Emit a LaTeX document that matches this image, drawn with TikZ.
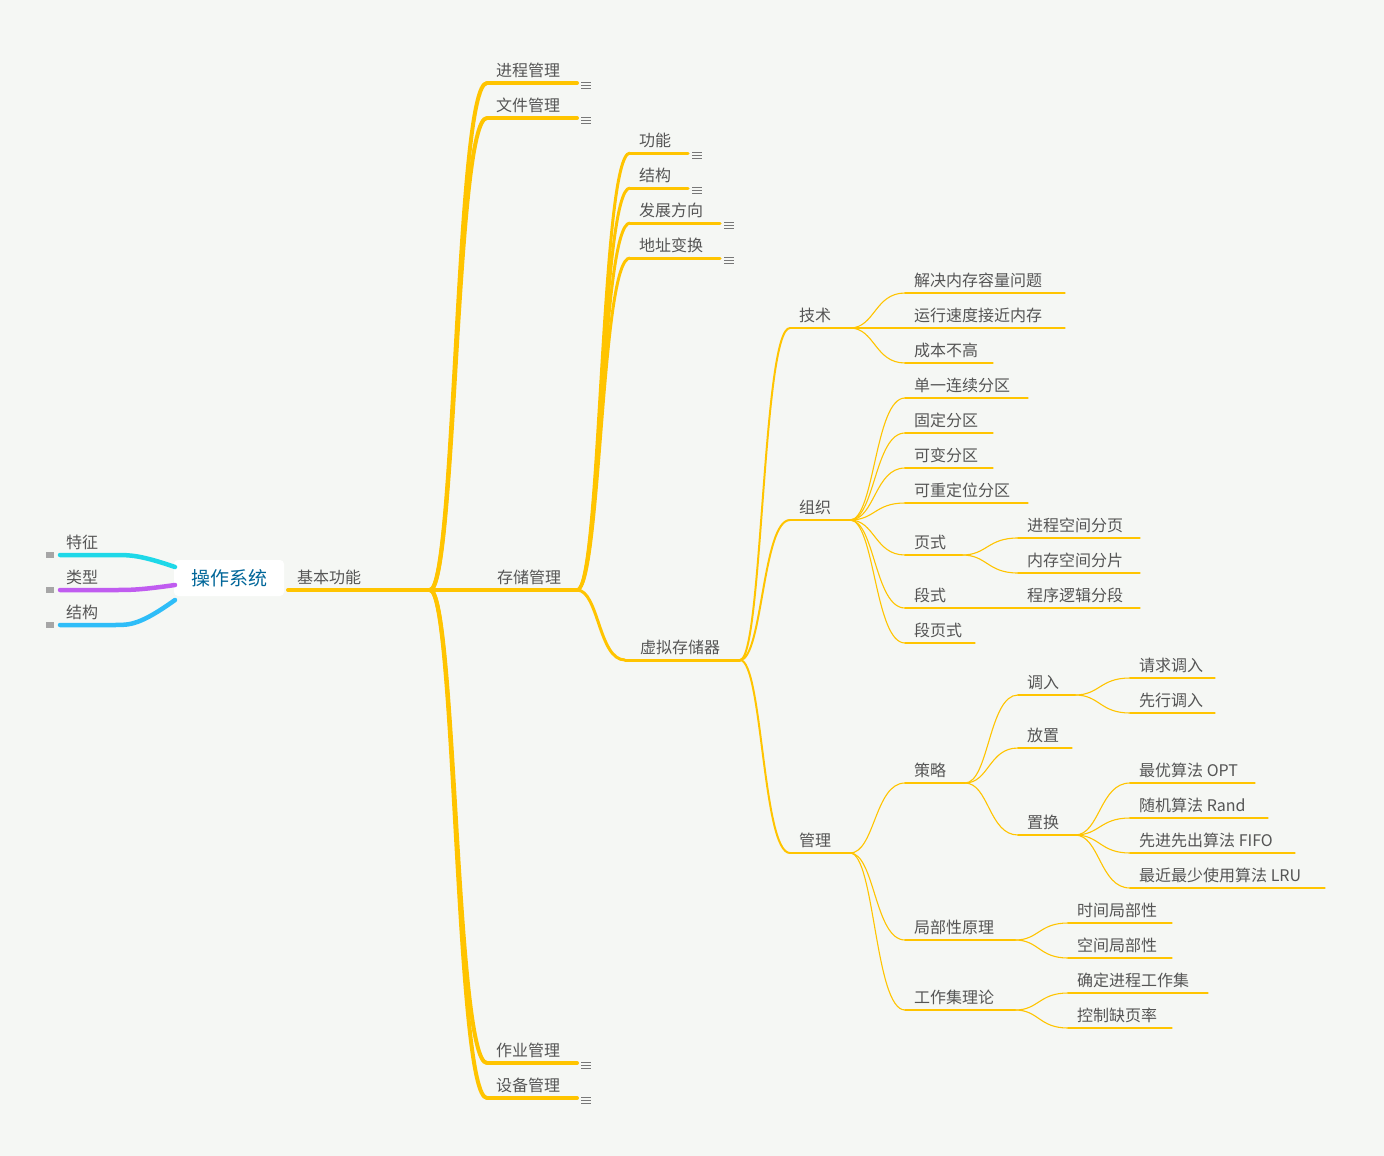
\documentclass[tikz,border=0pt]{standalone}
\usepackage{fontspec}
\setmainfont{Noto Sans CJK SC}
\usetikzlibrary{calc}
\definecolor{bg}{HTML}{F5F7F4}
\definecolor{org}{HTML}{FFC400}
\definecolor{txt}{HTML}{555555}
\tikzset{lbl/.style={anchor=south west,inner sep=0pt,text=txt,font=\fontsize{16}{18}\selectfont}}
\newcommand\tp[6]{% name xs y xe text width
  \coordinate (#1-s) at (#2,#3); \coordinate (#1-e) at (#4,#3);
  \draw[org,line width=#6,line cap=round] (#1-s) -- (#1-e);
  \node[lbl] (#1) at (#2+9,#3-5) {#5};}
\newcommand\cn[3]{\draw[org,line width=#3] let \p1=(#1-e), \p2=(#2-s) in (\p1) .. controls ({\x1+0.45*(\x2-\x1)},\y1) and ({\x1+0.45*(\x2-\x1)},\y2) .. (\p2);}
\newcommand\mk[1]{\foreach \d in {-3,0,3}{\draw[txt!80,line width=0.8pt] ($(#1-e)+(4,\d+2)$) -- ++(10,0);}}
\begin{document}
\begin{tikzpicture}[x=1pt,y=-1pt]
\fill[bg] (0,0) rectangle (1384,1156);
\useasboundingbox (0,0) rectangle (1384,1156);
% left branches
\node[fill=white,rounded corners=4pt,minimum width=110pt,minimum height=36pt,text=teal!80!blue,font=\fontsize{19}{22}\selectfont] (root) at (229,578) {操作系统};
\foreach \n/\t/\y/\c/\yy in {a/特征/555/1ED8E8/567,b/类型/590/C05CF0/585,c/结构/625/2EBDF8/600}{
  \definecolor{cc}{HTML}{\c}
  \coordinate (\n-e) at (60,\y);
  \coordinate (\n-r) at (175,\yy);
  \draw[cc,line width=4.5pt,line cap=round] (\n-r) .. controls (140,\y) and (130,\y) .. (115,\y) -- (\n-e);
  \node[lbl] (\n) at (66,\y-5) {\t};
  \fill[gray!70] ($(\n-e)+(-14,-3)$) rectangle ++(8,6);
}
\tp{jb}{288}{590}{430}{基本功能}{4pt}
\node[lbl] at (352,585) {};
\tp{jc}{487}{83}{577}{进程管理}{4pt}\mk{jc}
\tp{wj}{487}{118}{577}{文件管理}{4pt}\mk{wj}
\tp{cc}{432}{590}{577}{\hspace*{56pt}存储管理}{4pt}
\tp{zy}{487}{1063}{577}{作业管理}{4pt}\mk{zy}
\tp{sb}{487}{1098}{577}{设备管理}{4pt}\mk{sb}
\foreach \b in {jc,wj,zy,sb}{\cn{jb}{\b}{4pt}}
\tp{gn}{630}{153}{688}{功能}{3pt}\mk{gn}
\tp{jg}{630}{188}{688}{结构}{3pt}\mk{jg}
\tp{fz}{630}{223}{720}{发展方向}{3pt}\mk{fz}
\tp{dz}{630}{258}{720}{地址变换}{3pt}\mk{dz}
\tp{xn}{625}{660}{740}{\hspace*{6pt}虚拟存储器}{3pt}
\foreach \b in {gn,jg,fz,dz,xn}{\cn{cc}{\b}{3pt}}
\tp{js}{790}{328}{850}{技术}{2pt}
\tp{zz}{790}{520}{850}{组织}{2pt}
\tp{gl}{790}{853}{850}{管理}{2pt}
\foreach \b in {js,zz,gl}{\cn{xn}{\b}{2pt}}
\def\tw{1.1pt}
\tp{j1}{905}{293}{1065}{解决内存容量问题}{\tw}
\tp{j2}{905}{328}{1065}{运行速度接近内存}{\tw}
\tp{j3}{905}{363}{993}{成本不高}{\tw}
\foreach \b in {j1,j2,j3}{\cn{js}{\b}{\tw}}
\tp{z1}{905}{398}{1028}{单一连续分区}{\tw}
\tp{z2}{905}{433}{993}{固定分区}{\tw}
\tp{z3}{905}{468}{993}{可变分区}{\tw}
\tp{z4}{905}{503}{1028}{可重定位分区}{\tw}
\tp{z5}{905}{555}{962}{页式}{\tw}
\tp{z6}{905}{608}{962}{段式}{\tw}
\tp{z7}{905}{643}{975}{段页式}{\tw}
\foreach \b in {z1,z2,z3,z4,z5,z6,z7}{\cn{zz}{\b}{\tw}}
\tp{p1}{1018}{538}{1140}{进程空间分页}{\tw}
\tp{p2}{1018}{573}{1140}{内存空间分片}{\tw}
\tp{d1}{962}{608}{1140}{\hspace*{56pt}程序逻辑分段}{\tw}
\cn{z5}{p1}{\tw}\cn{z5}{p2}{\tw}
\tp{cl}{905}{783}{965}{策略}{\tw}
\tp{jb2}{905}{940}{1015}{局部性原理}{\tw}
\tp{gz}{905}{1010}{1015}{工作集理论}{\tw}
\foreach \b in {cl,jb2,gz}{\cn{gl}{\b}{\tw}}
\tp{dr}{1018}{695}{1075}{调入}{\tw}
\tp{fzh}{1018}{748}{1072}{放置}{\tw}
\tp{zh}{1018}{835}{1075}{置换}{\tw}
\foreach \b in {dr,fzh,zh}{\cn{cl}{\b}{\tw}}
\tp{r1}{1130}{678}{1215}{请求调入}{\tw}
\tp{r2}{1130}{713}{1215}{先行调入}{\tw}
\cn{dr}{r1}{\tw}\cn{dr}{r2}{\tw}
\tp{s1}{1130}{783}{1255}{最优算法 OPT}{\tw}
\tp{s2}{1130}{818}{1268}{随机算法 Rand}{\tw}
\tp{s3}{1130}{853}{1295}{先进先出算法 FIFO}{\tw}
\tp{s4}{1130}{888}{1325}{最近最少使用算法 LRU}{\tw}
\foreach \b in {s1,s2,s3,s4}{\cn{zh}{\b}{\tw}}
\tp{t1}{1068}{923}{1172}{时间局部性}{\tw}
\tp{t2}{1068}{958}{1172}{空间局部性}{\tw}
\cn{jb2}{t1}{\tw}\cn{jb2}{t2}{\tw}
\tp{w1}{1068}{993}{1208}{确定进程工作集}{\tw}
\tp{w2}{1068}{1028}{1172}{控制缺页率}{\tw}
\cn{gz}{w1}{\tw}\cn{gz}{w2}{\tw}
\end{tikzpicture}
\end{document}
